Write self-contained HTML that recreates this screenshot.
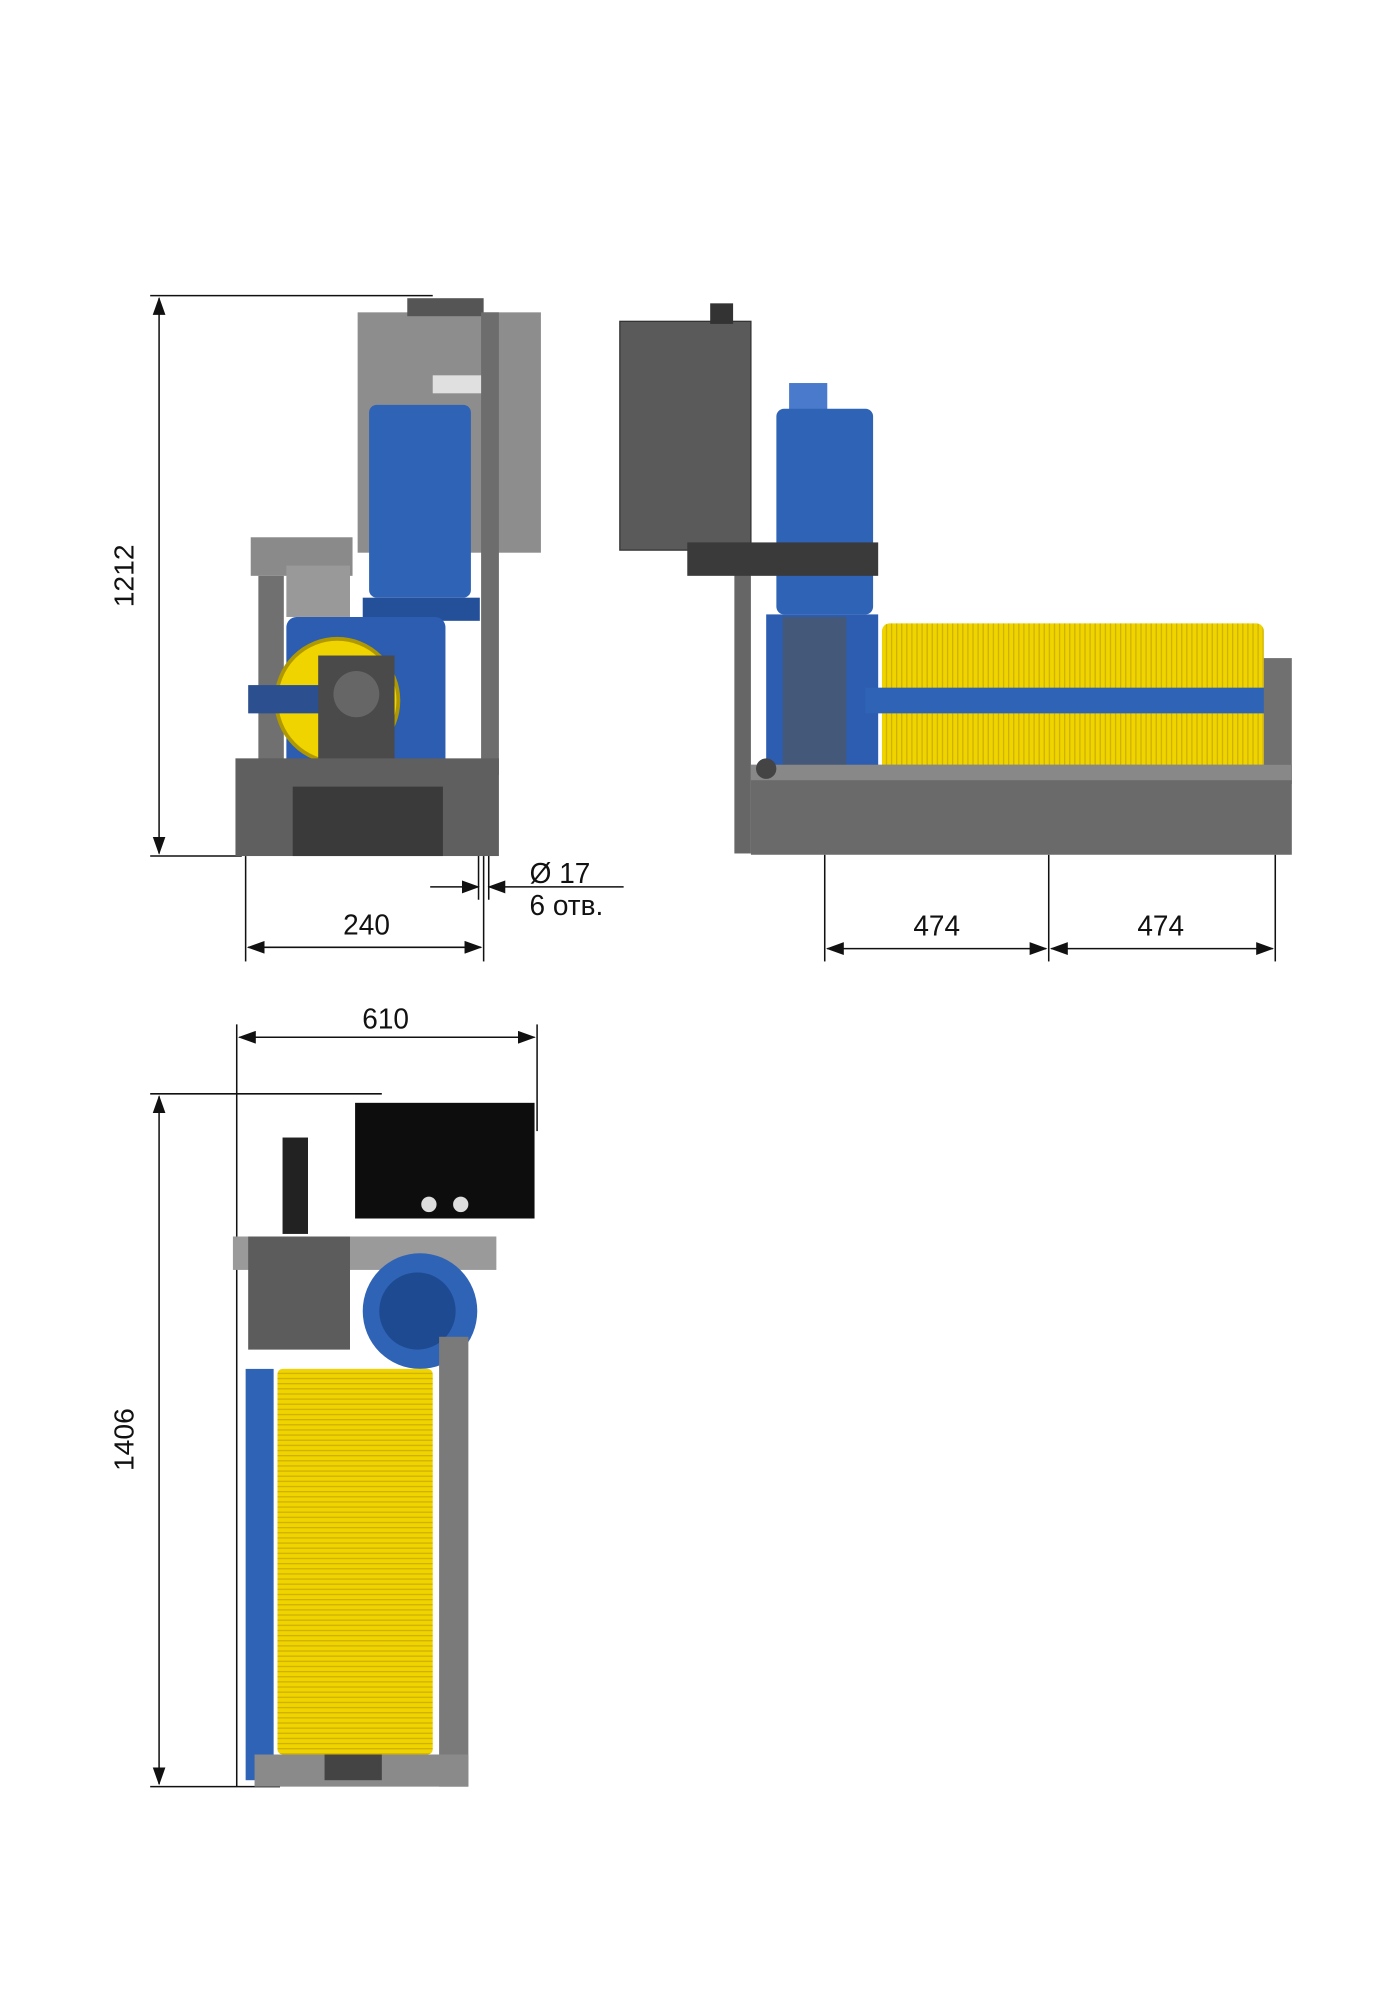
<!DOCTYPE html>
<html><head><meta charset="utf-8"><style>
html,body{margin:0;padding:0;background:#fff;}
svg{display:block;}
text{font-family:"Liberation Sans",sans-serif;font-size:22px;fill:#111;}
</style></head><body>
<svg width="1400" height="2000" viewBox="0 0 1100 1556" preserveAspectRatio="none" xmlns="http://www.w3.org/2000/svg">
<defs>
<marker id="a" markerWidth="14" markerHeight="10" refX="13" refY="5" orient="auto-start-reverse" markerUnits="userSpaceOnUse"><path d="M0,0 L14,5 L0,10 Z" fill="#111"/></marker>
<pattern id="rib" width="4" height="4" patternUnits="userSpaceOnUse"><rect width="4" height="4" fill="#f0d400"/><rect width="1" height="4" fill="#cfb000"/></pattern>
<pattern id="ribh" width="4" height="4" patternUnits="userSpaceOnUse"><rect width="4" height="4" fill="#f0d400"/><rect width="4" height="1" fill="#cfb000"/></pattern>
</defs>
<g stroke="#111" stroke-width="1.2" fill="none">
<!-- front view dims -->
<line x1="118" y1="230" x2="340" y2="230"/>
<line x1="118" y1="666" x2="190" y2="666"/>
<line x1="125" y1="232" x2="125" y2="664" marker-start="url(#a)" marker-end="url(#a)"/>
<line x1="193" y1="666" x2="193" y2="748"/>
<line x1="380" y1="666" x2="380" y2="748"/>
<line x1="195" y1="737" x2="378" y2="737" marker-start="url(#a)" marker-end="url(#a)"/>
<line x1="338" y1="690" x2="376" y2="690" marker-end="url(#a)"/>
<line x1="384" y1="690" x2="490" y2="690" marker-start="url(#a)"/>
<line x1="376" y1="660" x2="376" y2="700"/><line x1="384" y1="660" x2="384" y2="700"/>
<!-- side dims -->
<line x1="648" y1="665" x2="648" y2="748"/>
<line x1="824" y1="665" x2="824" y2="748"/>
<line x1="1002" y1="665" x2="1002" y2="748"/>
<line x1="650" y1="738" x2="822" y2="738" marker-start="url(#a)" marker-end="url(#a)"/>
<line x1="826" y1="738" x2="1000" y2="738" marker-start="url(#a)" marker-end="url(#a)"/>
<!-- top view dims -->
<line x1="186" y1="797" x2="186" y2="1390"/>
<line x1="422" y1="797" x2="422" y2="880"/>
<line x1="188" y1="807" x2="420" y2="807" marker-start="url(#a)" marker-end="url(#a)"/>
<line x1="118" y1="851" x2="300" y2="851"/>
<line x1="118" y1="1390" x2="220" y2="1390"/>
<line x1="125" y1="853" x2="125" y2="1388" marker-start="url(#a)" marker-end="url(#a)"/>
</g>
<text x="105" y="448" text-anchor="middle" transform="rotate(-90 105 448)">1212</text>
<text x="288" y="727" text-anchor="middle">240</text>
<text x="440" y="687" text-anchor="middle">Ø 17</text>
<text x="445" y="712" text-anchor="middle" font-size="19">6 отв.</text>
<text x="736" y="728" text-anchor="middle">474</text>
<text x="912" y="728" text-anchor="middle">474</text>
<text x="303" y="800" text-anchor="middle">610</text>
<text x="105" y="1120" text-anchor="middle" transform="rotate(-90 105 1120)">1406</text>

<!-- FRONT VIEW -->
<rect x="281" y="243" width="144" height="187" fill="#8d8d8d"/>
<rect x="320" y="232" width="60" height="14" fill="#555"/>
<rect x="378" y="243" width="14" height="360" fill="#6d6d6d"/>
<rect x="197" y="418" width="80" height="30" fill="#8a8a8a"/>
<rect x="203" y="448" width="20" height="145" fill="#707070"/>
<rect x="225" y="440" width="50" height="40" fill="#999"/>
<rect x="340" y="292" width="38" height="14" fill="#e0e0e0"/>
<rect x="290" y="315" width="80" height="150" rx="6" fill="#2f63b6"/>
<rect x="285" y="465" width="92" height="18" fill="#24509a"/>
<rect x="225" y="480" width="125" height="125" rx="8" fill="#2c5db0"/>
<circle cx="265" cy="545" r="48" fill="#f0d400" stroke="#b09800" stroke-width="3"/>
<rect x="195" y="533" width="60" height="22" fill="#2b4f8f"/>
<rect x="250" y="510" width="60" height="95" fill="#4a4a4a"/>
<circle cx="280" cy="540" r="18" fill="#666"/>
<rect x="185" y="590" width="207" height="76" fill="#5f5f5f"/>
<rect x="230" y="612" width="118" height="54" fill="#3a3a3a"/>

<!-- SIDE VIEW -->
<rect x="487" y="250" width="103" height="178" fill="#5a5a5a" stroke="#333"/>
<rect x="558" y="236" width="18" height="16" fill="#333"/>
<rect x="577" y="428" width="13" height="236" fill="#666"/>
<rect x="620" y="298" width="30" height="22" fill="#4a7acc"/>
<rect x="610" y="318" width="76" height="160" rx="6" fill="#2f63b6"/>
<rect x="602" y="478" width="88" height="122" fill="#2c5db0"/>
<rect x="615" y="480" width="50" height="120" fill="#555" opacity="0.6"/>
<rect x="540" y="422" width="150" height="26" fill="#3a3a3a"/>
<rect x="693" y="485" width="300" height="120" rx="6" fill="url(#rib)"/>
<rect x="680" y="535" width="320" height="20" fill="#2f63b6"/>
<rect x="993" y="512" width="22" height="98" fill="#707070"/>
<rect x="590" y="595" width="425" height="70" fill="#6a6a6a"/>
<rect x="590" y="595" width="425" height="12" fill="#888"/>
<circle cx="602" cy="598" r="8" fill="#444"/>

<!-- TOP VIEW -->
<rect x="279" y="858" width="141" height="90" fill="#0d0d0d"/>
<circle cx="337" cy="937" r="6" fill="#ddd"/><circle cx="362" cy="937" r="6" fill="#ddd"/>
<rect x="222" y="885" width="20" height="75" fill="#222"/>
<rect x="183" y="962" width="207" height="26" fill="#9a9a9a"/>
<circle cx="330" cy="1020" r="45" fill="#2f63b6"/>
<circle cx="328" cy="1020" r="30" fill="#1e4a92"/>
<rect x="195" y="962" width="80" height="88" fill="#5c5c5c"/>
<rect x="345" y="1040" width="23" height="350" fill="#7a7a7a"/>
<rect x="218" y="1065" width="122" height="300" rx="4" fill="url(#ribh)"/>
<rect x="193" y="1065" width="22" height="320" fill="#2f63b6"/>
<rect x="200" y="1365" width="168" height="25" fill="#8a8a8a"/>
<rect x="255" y="1365" width="45" height="20" fill="#444"/>
</svg>
</body></html>
